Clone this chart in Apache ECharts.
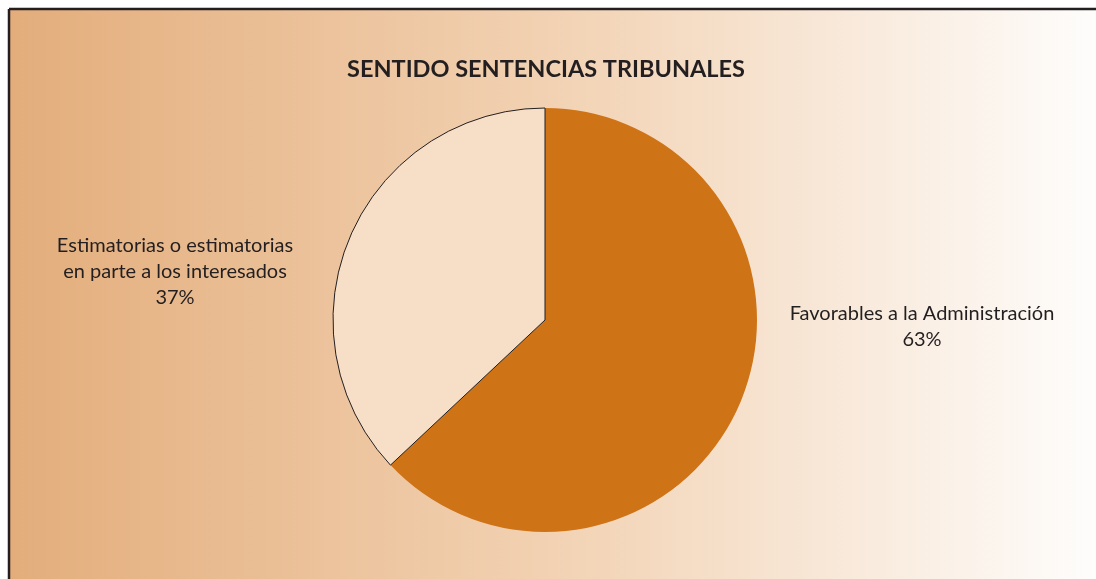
<!DOCTYPE html>
<html>
<head>
<meta charset="utf-8">
<script src="https://cdn.jsdelivr.net/npm/echarts@6/dist/echarts.min.js"></script>
<style>
  html, body { margin: 0; padding: 0; background: #fff; }
  #chart { width: 1096px; height: 579px; }
</style>
</head>
<body>
<div id="chart"></div>
<script>
// data
const titleText = 'SENTIDO SENTENCIAS TRIBUNALES';
const categories = ['Favorables a la Administración', 'Estimatorias o estimatorias\nen parte a los interesados'];
const values = [63, 37];
const sliceColors = ['#cf7317', '#f7dec6'];

const chart = echarts.init(document.getElementById('chart'));

const option = {
  animation: false,
  graphic: [
    {
      type: 'rect', z: -10, silent: true,
      shape: { x: 9, y: 9, width: 1090, height: 572 },
      style: {
        fill: new echarts.graphic.LinearGradient(0, 0, 1, 0, [
          { offset: 0, color: '#e3ad7b' },
          { offset: 0.5, color: '#f2d2b3' },
          { offset: 1, color: '#fefdfc' }
        ])
      }
    },
    { type: 'line', z: 10, silent: true, shape: { x1: 9, y1: 9, x2: 1096, y2: 9 }, style: { stroke: '#231f20', lineWidth: 2.5 } },
    { type: 'line', z: 10, silent: true, shape: { x1: 9, y1: 9, x2: 9, y2: 579 }, style: { stroke: '#231f20', lineWidth: 2.5 } }
  ],
  title: {
    text: titleText,
    left: 541,
    textAlign: 'center',
    top: 52,
    textStyle: { fontFamily: 'Lato', fontWeight: 'bold', fontSize: 23.5, color: '#231f20' }
  },
  series: [
    {
      type: 'pie',
      center: [545, 320],
      radius: 212,
      startAngle: 90,
      clockwise: true,
      label: {
        show: true,
        position: 'outside',
        formatter: '{b}\n{d}%',
        fontFamily: 'Lato',
        fontSize: 20,
        lineHeight: 26,
        color: '#231f20',
        align: 'center'
      },
      labelLine: { show: false },
      labelLayout: function (p) {
        if (p.dataIndex === 0) {
          return { x: 922, y: 327, align: 'center', verticalAlign: 'middle' };
        }
        return { x: 175, y: 272, align: 'center', verticalAlign: 'middle' };
      },
      emphasis: { disabled: true },
      data: categories.map((name, i) => ({
        name: name,
        value: values[i],
        itemStyle: i === 0
          ? { color: sliceColors[i], borderWidth: 0 }
          : { color: sliceColors[i], borderColor: '#231f20', borderWidth: 1 }
      }))
    }
  ]
};

chart.setOption(option);
</script>
</body>
</html>
